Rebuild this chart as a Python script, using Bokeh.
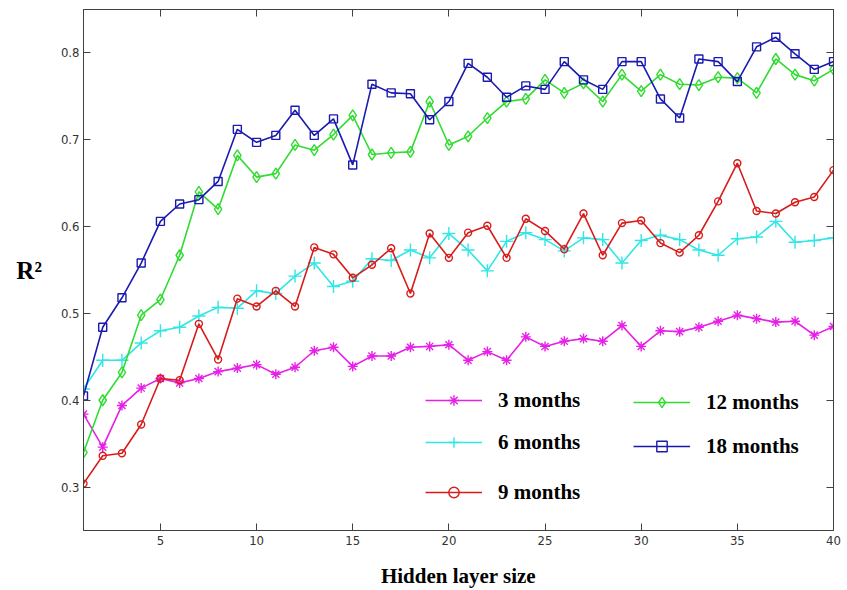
from bokeh.plotting import figure
from bokeh.models import (LinearAxis, FixedTicker, Range1d, Legend, LegendItem)
from bokeh.embed import file_html
from bokeh.resources import INLINE

hidden = list(range(1, 41))

m3 = [0.384, 0.346, 0.394, 0.414, 0.425, 0.420, 0.425, 0.433, 0.437, 0.441,
      0.430, 0.438, 0.457, 0.461, 0.439, 0.451, 0.451, 0.461, 0.462, 0.464,
      0.446, 0.456, 0.446, 0.473, 0.462, 0.468, 0.471, 0.468, 0.486, 0.462,
      0.480, 0.479, 0.484, 0.491, 0.498, 0.494, 0.490, 0.491, 0.475, 0.485]
m6 = [0.413, 0.446, 0.446, 0.466, 0.480, 0.484, 0.497, 0.507, 0.506, 0.526,
      0.523, 0.543, 0.558, 0.531, 0.537, 0.563, 0.561, 0.573, 0.564, 0.592,
      0.573, 0.549, 0.583, 0.593, 0.585, 0.572, 0.587, 0.585, 0.558, 0.584,
      0.590, 0.585, 0.573, 0.567, 0.586, 0.588, 0.606, 0.582, 0.584, 0.587]
m9 = [0.304, 0.336, 0.339, 0.372, 0.425, 0.423, 0.488, 0.447, 0.517, 0.508,
      0.526, 0.508, 0.576, 0.568, 0.541, 0.556, 0.575, 0.523, 0.592, 0.564,
      0.593, 0.601, 0.564, 0.609, 0.595, 0.574, 0.615, 0.567, 0.604, 0.607,
      0.581, 0.570, 0.590, 0.629, 0.673, 0.618, 0.615, 0.628, 0.634, 0.665]
m12 = [0.340, 0.400, 0.432, 0.498, 0.516, 0.567, 0.640, 0.620, 0.682, 0.657,
       0.661, 0.694, 0.688, 0.706, 0.728, 0.683, 0.685, 0.686, 0.744, 0.694,
       0.704, 0.725, 0.744, 0.747, 0.769, 0.754, 0.765, 0.744, 0.775, 0.756,
       0.775, 0.764, 0.763, 0.772, 0.771, 0.754, 0.793, 0.775, 0.768, 0.781]
m18 = [0.405, 0.484, 0.518, 0.558, 0.606, 0.626, 0.631, 0.652, 0.712, 0.697,
       0.705, 0.734, 0.705, 0.724, 0.671, 0.764, 0.754, 0.753, 0.723, 0.744,
       0.788, 0.772, 0.749, 0.762, 0.758, 0.790, 0.769, 0.758, 0.790, 0.790,
       0.747, 0.725, 0.793, 0.790, 0.767, 0.807, 0.818, 0.799, 0.781, 0.790]

series_labels = ["3 months", "6 months", "9 months", "12 months", "18 months"]
x_ticks = [5, 10, 15, 20, 25, 30, 35, 40]
y_ticks = [0.3, 0.4, 0.5, 0.6, 0.7, 0.8]
x_label = "Hidden layer size"
y_label = "R²"

AX = "#404040"
TICK_FONT = "'Liberation Sans Narrow', 'DejaVu Sans Condensed', 'Liberation Sans', sans-serif"
SERIF = "Liberation Serif"

p = figure(width=847, height=590, output_backend="svg", toolbar_location=None,
           x_range=Range1d(1, 40), y_range=Range1d(0.25, 0.85),
           min_border_left=83, min_border_right=14, min_border_top=9, min_border_bottom=59)
p.xgrid.visible = False
p.ygrid.visible = False
p.outline_line_color = AX
p.background_fill_color = "white"
p.border_fill_color = "white"


def style_axis(ax, ticks, labels=True):
    ax.ticker = FixedTicker(ticks=ticks)
    ax.axis_line_color = AX
    ax.major_tick_line_color = AX
    ax.major_tick_in = 7
    ax.major_tick_out = 0
    ax.minor_tick_line_color = None
    if labels:
        ax.major_label_text_font = TICK_FONT
        ax.major_label_text_font_size = "13px"
        ax.major_label_text_color = "#333333"
        ax.major_label_standoff = 5
    else:
        ax.major_label_overrides = {t: "" for t in ticks}
        ax.major_label_standoff = 0


style_axis(p.xaxis[0], x_ticks)
style_axis(p.yaxis[0], y_ticks)
p.yaxis[0].major_label_standoff = 4

p.xaxis[0].axis_label = x_label
p.xaxis[0].axis_label_text_font = SERIF
p.xaxis[0].axis_label_text_font_style = "bold"
p.xaxis[0].axis_label_text_font_size = "21px"
p.xaxis[0].axis_label_text_color = "black"
p.xaxis[0].axis_label_standoff = 16

p.yaxis[0].axis_label = y_label
p.yaxis[0].axis_label_orientation = "horizontal"
p.yaxis[0].axis_label_text_font = SERIF
p.yaxis[0].axis_label_text_font_style = "bold"
p.yaxis[0].axis_label_text_font_size = "25px"
p.yaxis[0].axis_label_text_color = "black"
p.yaxis[0].axis_label_standoff = 16

top = LinearAxis()
style_axis(top, x_ticks, labels=False)
p.add_layout(top, "above")
right = LinearAxis()
style_axis(right, y_ticks, labels=False)
p.add_layout(right, "right")

specs = [
    (m3, "#e620e6", "asterisk", 10, 1.6),
    (m6, "#30e6e6", "cross", 13, 1.6),
    (m9, "#d81c1c", "circle", 7, 1.6),
    (m12, "#30dc30", "diamond", 11, 1.6),
    (m18, "#1a1ab0", "square", 8, 1.6),
]
items = []
for (ys, col, mk, sz, lw), lab in zip(specs, series_labels):
    lr = p.line(hidden, ys, line_color=col, line_width=lw)
    sr = p.scatter(hidden, ys, marker=mk, size=sz, line_color=col,
                   fill_color=None, line_width=1.4)
    items.append(LegendItem(label=lab, renderers=[lr, sr]))

legend_pos = [(342, 117), (342, 75), (342, 25), (550, 115), (550, 71)]
for it, loc in zip(items, legend_pos):
    lg = Legend(items=[it], location=loc, padding=0, margin=0,
                border_line_alpha=0, background_fill_alpha=0,
                glyph_width=57, glyph_height=26, label_height=26,
                label_standoff=16, spacing=0,
                label_text_font=SERIF, label_text_font_style="bold",
                label_text_font_size="21px", label_text_color="black")
    p.add_layout(lg, "center")

open("out.html", "w").write(file_html(p, INLINE))
